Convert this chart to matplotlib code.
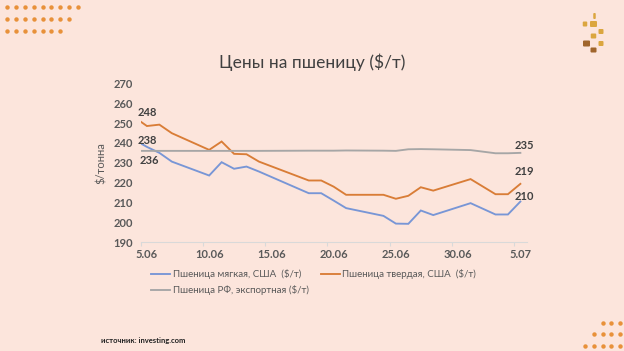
import matplotlib
matplotlib.use("Agg")
import matplotlib.pyplot as plt
from matplotlib.patches import FancyBboxPatch
from matplotlib.lines import Line2D
import matplotlib.transforms as mtransforms

# day offsets from 5.06 (day -1 is clipped by the axis)
days = [-1, 0, 1, 2, 5, 6, 7, 8, 9, 13, 14, 15, 16, 19, 20, 21, 22, 23, 26, 28, 29, 30]
soft_us = [241.5, 238, 235, 230.6, 223.6, 230.3, 227, 228.1, 225.6, 214.7, 214.7, 211, 207.2,
           203.3, 199.4, 199.3, 206, 203.7, 209.7, 204, 204, 210.5]
durum_us = [252.9, 248.5, 249.2, 244.9, 236.5, 240.7, 234.5, 234.3, 230.6, 221.1, 221.1, 218, 213.9,
            213.9, 211.9, 213.4, 217.7, 216, 221.8, 214.2, 214.2, 219.4]
ru_export = [236, 236, 236, 236, 236, 236, 236, 236, 236, 236.1, 236.1, 236.1, 236.2,
             236.1, 236.0, 236.8, 236.9, 236.8, 236.4, 234.8, 234.8, 235]

tick_days = [0, 5, 10, 15, 20, 25, 30]
tick_labels = ["5.06", "10.06", "15.06", "20.06", "25.06", "30.06", "5.07"]
series_names = ["Пшеница мягкая, США  ($/т)", "Пшеница твердая, США  ($/т)",
                "Пшеница РФ, экспортная ($/т)"]
start_labels = ["238", "248", "236"]
end_labels = ["210", "219", "235"]

bg = "#fce5dc"
c_blue = "#7896d6"
c_orange = "#d97d37"
c_gray = "#a6a6a6"
txt = "#595959"
font = "Lato"

fig = plt.figure(figsize=(6.24, 3.51), dpi=100, facecolor=bg)
ax = fig.add_axes([140.7 / 624, 1 - 242.3 / 351, (526.6 - 140.7) / 624, (242.3 - 83.3) / 351])
ax.set_facecolor(bg)

l1, = ax.plot(days, soft_us, color=c_blue, lw=1.35, solid_joinstyle="miter")
l2, = ax.plot(days, durum_us, color=c_orange, lw=1.35, solid_joinstyle="miter")
l3, = ax.plot(days, ru_export, color=c_gray, lw=1.35, solid_joinstyle="miter")

ax.set_xlim(-0.5, 30.5)
ax.set_ylim(190, 270)
ax.set_yticks(range(190, 271, 10))
ax.tick_params(axis="y", length=0, pad=5.5, labelsize=8, labelcolor=txt)
for t in ax.get_yticklabels():
    t.set_fontfamily(font)
    t.set_fontweight("bold")

ax.set_xticks([d - 0.5 for d in tick_days])
ax.set_xticklabels([])
ax.set_xticks(tick_days, minor=True)
ax.set_xticklabels(tick_labels, minor=True, fontfamily=font, fontweight="bold",
                   fontsize=8, color=txt)
ax.tick_params(axis="x", which="major", length=3, color="#d9d9d9", width=0.8)
ax.tick_params(axis="x", which="minor", length=0, pad=5)

for s in ["top", "right", "left"]:
    ax.spines[s].set_visible(False)
ax.spines["bottom"].set_color("#d9d9d9")
ax.spines["bottom"].set_linewidth(0.8)

ax.set_ylabel("$/тонна", fontfamily=font, fontsize=8, color=txt, labelpad=5)

# data labels
lab_kw = dict(fontfamily=font, fontsize=8, fontweight="bold", color="#404040",
              textcoords="offset points", ha="center", va="center")
i0 = days.index(0)
ax.annotate(start_labels[1], (0, durum_us[i0]), xytext=(0, 9.5), **lab_kw)
ax.annotate(start_labels[0], (0, soft_us[i0]), xytext=(0, 4.5), **lab_kw)
ax.annotate(start_labels[2], (0, ru_export[i0]), xytext=(2, -6.8), **lab_kw)
ax.annotate(end_labels[2], (30, ru_export[-1]), xytext=(3, 5), **lab_kw)
ax.annotate(end_labels[1], (30, durum_us[-1]), xytext=(3, 9), **lab_kw)
ax.annotate(end_labels[0], (30, soft_us[-1]), xytext=(3, 3.5), **lab_kw)

fig.text(312 / 624, 1 - 62 / 351, "Цены на пшеницу ($/т)", ha="center", va="center",
         fontfamily=font, fontsize=12.5, color="#404040")

leg = fig.legend([l1, l3, l2], [series_names[0], series_names[2], series_names[1]],
                 ncol=2, loc="upper left", bbox_to_anchor=(151 / 624, 1 - 269 / 351),
                 frameon=False, borderpad=0, borderaxespad=0, handlelength=2.0,
                 handletextpad=0.25, columnspacing=1.2, labelspacing=0.65,
                 prop={"family": font, "size": 7})
for t in leg.get_texts():
    t.set_color(txt)

fig.text(101 / 624, 1 - 341 / 351, "источник: investing.com", ha="left", va="center",
         fontfamily=font, fontsize=5.5, fontweight="bold", color="#222222")

# decorative dots (pixel coords)
px = mtransforms.Affine2D().scale(1 / 624, 1 / 351) + fig.transFigure
dot = "#e8913a"
for r, n in enumerate([9, 8, 7]):
    for k in range(n):
        fig.add_artist(Line2D([7.3 + 8.8 * k], [351 - (7.3 + 11.9 * r)], marker="o", ms=3.2,
                              color=dot, mec="none", transform=px))
for r, n in enumerate([3, 4, 5]):
    for k in range(n):
        fig.add_artist(Line2D([620 - 8.7 * k], [351 - (322.7 + 11.5 * r)], marker="o", ms=3.2,
                              color=dot, mec="none", transform=px))

# wheat logo
gold = "#dba63f"
brown = "#a0652c"
def sq(cx, cy, w, h, c):
    fig.add_artist(FancyBboxPatch((cx - w / 2, 351 - cy - h / 2), w, h,
                                  boxstyle="round,pad=0,rounding_size=1", fc=c, ec="none",
                                  transform=px))
sq(594.5, 16, 2.5, 6, gold)
sq(585, 24, 4.5, 5, gold)
sq(593.5, 24, 7, 6, gold)
sq(601, 31.5, 5, 5, gold)
sq(593.5, 36, 5.5, 5, gold)
sq(586.5, 43.5, 7, 6, brown)
sq(601, 43.5, 5, 5, gold)
sq(593.5, 50, 6, 5, brown)

fig.savefig("out.png", dpi=100, facecolor=bg)
